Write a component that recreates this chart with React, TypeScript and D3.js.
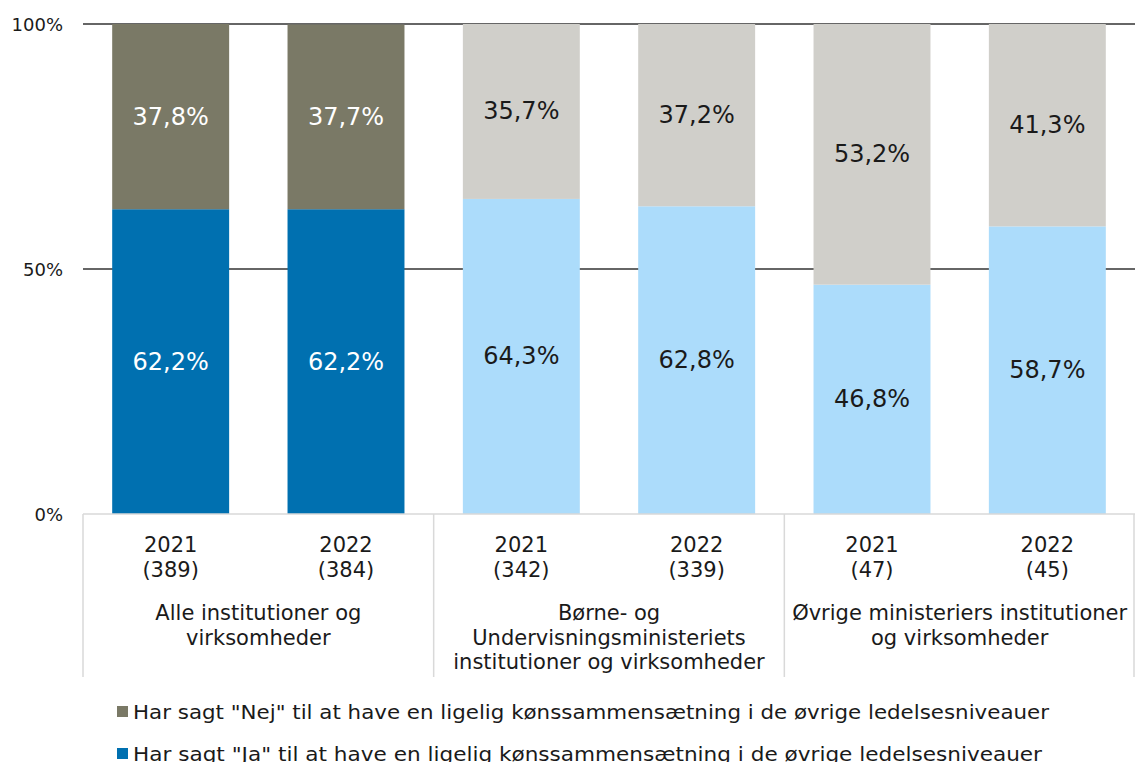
import * as d3 from 'd3';

const years = ['2021', '2022', '2021', '2022', '2021', '2022'];
const counts = ['(389)', '(384)', '(342)', '(339)', '(47)', '(45)'];
const groupLabels = [
  ['Alle institutioner og', 'virksomheder'],
  ['Børne- og', 'Undervisningsministeriets', 'institutioner og virksomheder'],
  ['Øvrige ministeriers institutioner', 'og virksomheder'],
];
const jaValues = [62.2, 62.2, 64.3, 62.8, 46.8, 58.7];
const nejValues = [37.8, 37.7, 35.7, 37.2, 53.2, 41.3];
const yTicks = [0, 50, 100];
const legendLabels = [
  'Har sagt "Nej" til at have en ligelig kønssammensætning i de øvrige ledelsesniveauer',
  'Har sagt "Ja" til at have en ligelig kønssammensætning i de øvrige ledelsesniveauer',
];

const width = 1135;
const height = 762;
const margin = { top: 24, right: 0, bottom: 248, left: 83 };
const font = '"DejaVu Sans", Verdana, sans-serif';

// first group uses dark colours, the others light
const jaColor = (i: number) => (i < 2 ? '#0070b0' : '#acdcfb');
const nejColor = (i: number) => (i < 2 ? '#7a7966' : '#d0cfca');
const textColor = (i: number) => (i < 2 ? '#ffffff' : '#1a1a1a');

const fmt = (v: number) => v.toFixed(1).replace('.', ',') + '%';

export default function App() {
  const idx = d3.range(years.length);
  const x = d3
    .scaleBand<number>()
    .domain(idx)
    .range([margin.left, width - margin.right])
    .paddingInner(0.333)
    .paddingOuter(0.1665);
  const y = d3
    .scaleLinear()
    .domain([0, 100])
    .range([height - margin.bottom, margin.top]);

  const rows = idx.map((i) => ({ i, ja: jaValues[i], nej: nejValues[i] }));
  const series = d3.stack<any>().keys(['ja', 'nej'])(rows);

  const step = x.step();
  const y0 = y(0);
  const sepBottom = 677;

  return (
    <svg
      width={width}
      height={height}
      style={{ position: 'absolute', left: 0, top: 0, background: '#fff' }}
      fontFamily={font}
    >
      {/* gridlines */}
      {yTicks
        .filter((t) => t > 0)
        .map((t) => (
          <line key={t} x1={margin.left} x2={width} y1={y(t)} y2={y(t)} stroke="#333" strokeWidth={1.6} />
        ))}
      {yTicks.map((t) => (
        <text key={t} x={63} y={y(t)} textAnchor="end" dominantBaseline="central" fontSize={18} fill="#1a1a1a">
          {t}%
        </text>
      ))}

      {/* bars */}
      {series.map((s) =>
        s.map((d, j) => (
          <rect
            key={s.key + j}
            x={x(j)}
            width={x.bandwidth()}
            y={y(d[1])}
            height={y(d[0]) - y(d[1])}
            fill={s.key === 'ja' ? jaColor(j) : nejColor(j)}
          />
        ))
      )}
      {series.map((s) =>
        s.map((d, j) => (
          <text
            key={'l' + s.key + j}
            x={(x(j) as number) + x.bandwidth() / 2}
            y={(y(d[0]) + y(d[1])) / 2}
            textAnchor="middle"
            dominantBaseline="central"
            fontSize={24}
            fill={textColor(j)}
          >
            {fmt(s.key === 'ja' ? jaValues[j] : nejValues[j])}
          </text>
        ))
      )}

      {/* category axis */}
      <line x1={margin.left} x2={width} y1={y0} y2={y0} stroke="#d9d9d9" strokeWidth={1.5} />
      {[0, 2, 4, 6].map((k) => {
        const sx = Math.min(margin.left + k * step, width - 1);
        return <line key={k} x1={sx} x2={sx} y1={y0} y2={sepBottom} stroke="#d9d9d9" strokeWidth={1.5} />;
      })}
      {idx.map((i) => {
        const cx = (x(i) as number) + x.bandwidth() / 2;
        return (
          <g key={'c' + i} fontSize={21} fill="#1a1a1a" textAnchor="middle">
            <text x={cx} y={552}>{years[i]}</text>
            <text x={cx} y={577}>{counts[i]}</text>
          </g>
        );
      })}
      {groupLabels.map((lines, g) => {
        const cx = margin.left + (g * 2 + 1) * step;
        return (
          <g key={'g' + g} fontSize={21} fill="#1a1a1a" textAnchor="middle">
            {lines.map((ln, k) => (
              <text key={k} x={cx} y={620 + k * 24.5}>
                {ln}
              </text>
            ))}
          </g>
        );
      })}

      {/* legend */}
      {legendLabels.map((lab, k) => (
        <g key={'lg' + k}>
          <rect x={117} y={706 + k * 42} width={11} height={11} fill={k === 0 ? '#7a7966' : '#0070b0'} />
          <text
            x={133}
            y={719 + k * 42}
            fontSize={19}
            fill="#1a1a1a"
            textLength={k === 0 ? 916 : 909}
            lengthAdjust="spacingAndGlyphs"
          >
            {lab}
          </text>
        </g>
      ))}
    </svg>
  );
}
